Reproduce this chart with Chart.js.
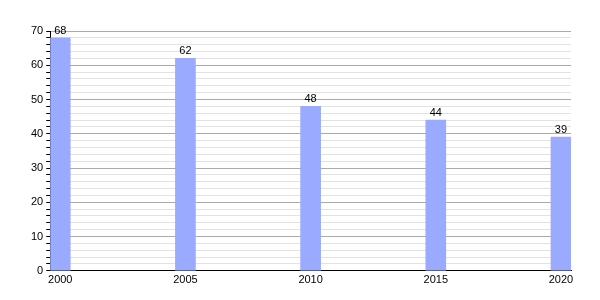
<!DOCTYPE html>
<html>
<head>
<meta charset="utf-8">
<script src="https://cdn.jsdelivr.net/npm/chart.js@4"></script>
<style>
  html, body { margin: 0; padding: 0; background: #fff; }
  #wrap { width: 600px; height: 300px; }
</style>
</head>
<body>
<div id="wrap"><canvas id="c" width="600" height="300"></canvas></div>
<script>
'use strict';

const years = [2000, 2005, 2010, 2015, 2020];
const values = [68, 62, 48, 44, 39];
const yMax = 70;

// value labels drawn just above each bar
const barLabels = {
  id: 'barLabels',
  afterDatasetsDraw(chart) {
    const ctx = chart.ctx;
    const meta = chart.getDatasetMeta(0);
    ctx.save();
    ctx.font = '11px "Liberation Sans", Arial, sans-serif';
    ctx.fillStyle = '#000';
    ctx.textAlign = 'center';
    ctx.textBaseline = 'alphabetic';
    meta.data.forEach((bar, i) => {
      ctx.fillText(String(values[i]), bar.x, bar.y - 4);
    });
    ctx.restore();
  }
};

Chart.defaults.font.family = '"Liberation Sans", Arial, sans-serif';
Chart.defaults.font.size = 11;
Chart.defaults.color = '#000';

new Chart(document.getElementById('c'), {
  type: 'bar',
  data: {
    datasets: [{
      data: years.map((y, i) => ({ x: y, y: values[i] })),
      backgroundColor: '#99aaff',
      borderWidth: 0,
      barThickness: 20
    }]
  },
  options: {
    responsive: false,
    animation: false,
    layout: { padding: { left: 28, right: 29, top: 31, bottom: 10 } },
    plugins: { legend: { display: false }, tooltip: { enabled: false } },
    scales: {
      x: {
        type: 'linear',
        offset: false,
        min: 1999.6,
        max: 2020.4,
        afterBuildTicks: scale => { scale.ticks = years.map(v => ({ value: v })); },
        grid: { display: false, drawTicks: false, tickLength: 0 },
        border: { display: true, color: '#000', width: 1 },
        ticks: {
          padding: 3,
          maxRotation: 0,
          autoSkip: false,
          callback: v => String(v)
        }
      },
      y: {
        min: 0,
        max: yMax,
        ticks: {
          stepSize: 2,
          autoSkip: false,
          padding: 3,
          callback: v => (v % 10 === 0 ? String(v) : '')
        },
        grid: {
          color: ctx => (ctx.tick && ctx.tick.value % 10 === 0 ? '#aaaaaa' : '#e2e2e2'),
          tickColor: '#000',
          tickLength: 4,
          lineWidth: 1
        },
        border: { display: true, color: '#000', width: 1 }
      }
    }
  },
  plugins: [barLabels]
});
</script>
</body>
</html>
